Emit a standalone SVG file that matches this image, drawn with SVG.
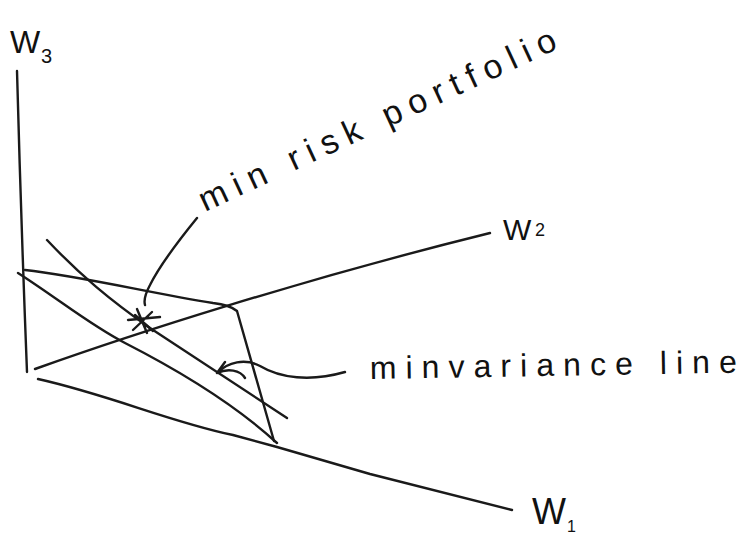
<svg xmlns="http://www.w3.org/2000/svg" width="739" height="538" viewBox="0 0 739 538">
<style>
.ln{fill:none;stroke:#1a1a1a;stroke-width:2.4;stroke-linecap:round;stroke-linejoin:round}
.tx{font-family:"Liberation Sans","DejaVu Sans",sans-serif;fill:#111}
</style>
<rect width="739" height="538" fill="#fff"/>
<g id="axes">
<path id="axis-w3" class="ln" d="M17,71 Q21,220 27,372"/>
<path id="axis-w2" class="ln" d="M35,369 C130,335 300,280 490,233"/>
<path id="axis-w1" class="ln" d="M38,379 C110,395 170,422 233,435 L277,447 L370,474 L512,510"/>
</g>
<g id="region">
<path id="top-edge" class="ln" d="M25,270 C80,276 150,293 213,303 Q230,305 237,311 L274,441"/>
<path id="left-curve" class="ln" d="M18,273 C60,300 90,325 125,343 C170,366 230,400 277,443"/>
<path id="min-variance-line" class="ln" d="M47,240 C80,275 110,300 150,328 L287,418"/>
</g>
<g id="min-risk-star">
<path class="ln" d="M128,320 L160,317 M137,309 L147,333 M133,330 L152,312 M135,315 L153,331 M140,318 L146,326"/>
</g>
<g id="connectors">
<path class="ln" d="M197,218 C175,245 160,265 150,285 Q143,298 145,305"/>
<path class="ln" d="M345,372 C310,382 280,378 260,366 C245,358 228,362 217,373 M217,373 L225,362 M217,373 C228,368 240,370 245,378"/>
</g>
<g id="labels">
<text class="tx" x="10" y="53" font-size="32">W</text>
<text class="tx" x="41" y="63" font-size="20">3</text>
<text class="tx" x="503" y="240" font-size="30">W</text>
<text class="tx" x="535" y="236" font-size="18">2</text>
<text class="tx" x="532" y="524" font-size="36">W</text>
<text class="tx" x="567" y="532" font-size="16">1</text>
<text class="tx" x="205" y="212" font-size="34" textLength="390" lengthAdjust="spacing" transform="rotate(-24.8 205 212)">min risk portfolio</text>
<text class="tx" x="370" y="379" font-size="32" textLength="367" lengthAdjust="spacing" transform="rotate(-1 370 379)">minvariance line</text>
</g>
</svg>
